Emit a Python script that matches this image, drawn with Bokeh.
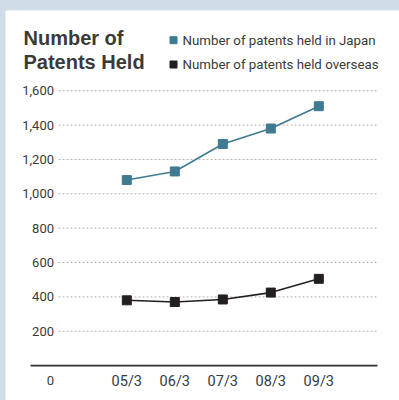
from bokeh.plotting import figure
from bokeh.models import Range1d, ColumnDataSource
from bokeh.layouts import column
from bokeh.core.properties import value
from bokeh.embed import file_html
from bokeh.resources import INLINE

# ---- data ----
periods = ["05/3", "06/3", "07/3", "08/3", "09/3"]
japan = [1080, 1130, 1290, 1380, 1510]
overseas = [380, 370, 385, 425, 505]
y_ticks = [200, 400, 600, 800, 1000, 1200, 1400, 1600]
y_tick_labels = ["200", "400", "600", "800", "1,000", "1,200", "1,400", "1,600"]
title_lines = ["Number of", "Patents Held"]
legend_labels = ["Number of patents held in Japan", "Number of patents held overseas"]
colors = ["#3e7a92", "#231f20"]

# ---- layout constants (canvas pixels) ----
W, H = 394, 390
X0, DX = 121.3, 48.0          # px of first category, px per category
Y0, KY = 355.1, 34.36 / 200   # px of value 0, px per unit


def dx(px):
    return (px - X0) / DX


def dy(py):
    return (Y0 - py) / KY


p = figure(width=W, height=H, output_backend="svg", toolbar_location=None,
           x_range=Range1d(dx(0), dx(W)), y_range=Range1d(dy(H), dy(0)),
           x_axis_type=None, y_axis_type=None, min_border=0,
           background_fill_color="white", border_fill_color="white",
           outline_line_color=None, margin=(10, 0, 0, 5))
p.grid.visible = False

FONT = value("Roboto")
TXT = "#3a3a3a"

# gridlines
p.segment(x0=[dx(53)] * len(y_ticks), x1=[dx(372)] * len(y_ticks), y0=y_ticks, y1=y_ticks,
          line_color="#b4b4b4", line_width=1, line_dash="2 2")
# base axis line
p.segment(x0=[dx(25)], x1=[dx(372)], y0=[0], y1=[0], line_color="#333333", line_width=1.6)

# y tick labels
p.text(x=[dx(48.5)] * len(y_ticks), y=y_ticks, text=y_tick_labels, text_font=FONT,
       text_font_size="13px", text_align="right", text_baseline="middle", text_color=TXT)
# zero label on the category row
p.text(x=[dx(48.5)], y=[dy(370)], text=["0"], text_font=FONT, text_font_size="13px",
       text_align="right", text_baseline="middle", text_color=TXT)

# category labels
xs = list(range(len(periods)))
p.text(x=xs, y=[dy(370.5)] * len(xs), text=periods, text_font=FONT, text_font_size="14.5px",
       text_align="center", text_baseline="middle", text_color=TXT)

# series
for vals, c in zip([japan, overseas], colors):
    src = ColumnDataSource(dict(x=xs, y=vals))
    p.line("x", "y", source=src, line_color=c, line_width=1.6)
    p.scatter("x", "y", source=src, marker="square", size=9, fill_color=c, line_color=c)

# title
p.text(x=[dx(18)] * 2, y=[dy(27.5), dy(51)], text=title_lines,
       text_font=value("Liberation Sans"), text_font_style="bold", text_font_size="20px",
       text_align="left", text_baseline="middle", text_color=TXT)

# legend
leg_y = [dy(29.7), dy(54)]
p.scatter(x=[dx(168)] * 2, y=leg_y, marker="square", size=7, fill_color=colors, line_color=colors)
p.text(x=[dx(177)] * 2, y=leg_y, text=legend_labels, text_font=FONT, text_font_size="13.3px",
       text_align="left", text_baseline="middle", text_color=TXT)

layout = column(p, styles={"background-color": "#d0dde6"})
open("out.html", "w").write(file_html(layout, INLINE))
